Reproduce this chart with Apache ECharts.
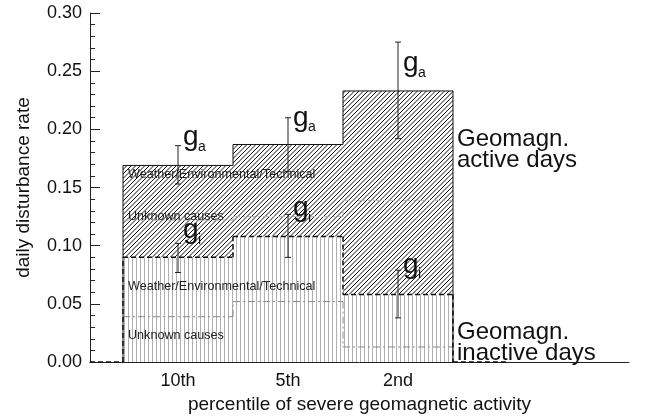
<!DOCTYPE html>
<html><head><meta charset="utf-8">
<script src="https://cdn.jsdelivr.net/npm/echarts@6/dist/echarts.min.js"></script>
<style>html,body{margin:0;padding:0;background:#fff}#c{width:651px;height:419px}</style>
</head><body><div id="c"></div>
<script>
// ---- data ----
const categories = ['10th', '5th', '2nd'];
const activeRate = [0.169, 0.187, 0.233];
const activeErrLow = [0.153, 0.164, 0.192];
const activeErrHigh = [0.186, 0.210, 0.275];
const inactiveRate = [0.090, 0.108, 0.058];
const inactiveErrLow = [0.077, 0.090, 0.038];
const inactiveErrHigh = [0.102, 0.127, 0.079];
const activeUnknown = [0.122, 0.125, 0.139];
const inactiveUnknown = [0.039, 0.052, 0.013];
const yTickValues = [0, 0.05, 0.10, 0.15, 0.20, 0.25, 0.30];

// ---- style config ----
const FONT = 'Liberation Sans, Arial, Helvetica, sans-serif';
const HALF = 0.5;
const xPos = categories.map((c, i) => i + 1);
const gActiveDy = [-13, -4.5, 16.5];
const gInactiveDy = [-17.5, -10.5, -10];

function makeDiag() {
  const s = 9, cv = document.createElement('canvas');
  cv.width = s; cv.height = s;
  const g = cv.getContext('2d');
  g.fillStyle = '#fff'; g.fillRect(0, 0, s, s);
  g.strokeStyle = '#111'; g.lineWidth = 1;
  for (const c of [0, 4.5, 9, 13.5, 18]) {
    g.beginPath(); g.moveTo(c + 1, -1); g.lineTo(c - s - 1, s + 1); g.stroke();
  }
  return cv;
}
function makeVert() {
  const cv = document.createElement('canvas');
  cv.width = 4; cv.height = 4;
  const g = cv.getContext('2d');
  g.fillStyle = '#fff'; g.fillRect(0, 0, 4, 4);
  g.fillStyle = '#b0b0b0'; g.fillRect(0, 0, 1, 4);
  return cv;
}
const diagFill = { image: makeDiag(), repeat: 'repeat' };
const vertFill = { image: makeVert(), repeat: 'repeat' };

function rectItem(lowArr, highArr, fill) {
  return function (params, api) {
    const i = params.dataIndex, x = api.value(0);
    const lo = lowArr ? lowArr[i] : 0;
    const p0 = api.coord([x - HALF, lo]);
    const p1 = api.coord([x + HALF, highArr[i]]);
    return { type: 'rect', shape: { x: p0[0], y: p1[1], width: p1[0] - p0[0], height: p0[1] - p1[1] },
      style: { fill: fill } };
  };
}
function stepItem(vals, style, edges, ext) {
  return function (params, api) {
    const i = params.dataIndex, x = api.value(0), n = vals.length;
    const ch = [];
    const seg = (a, b) => { const p = api.coord(a), q = api.coord(b);
      ch.push({ type: 'line', shape: { x1: p[0], y1: p[1], x2: q[0], y2: q[1] }, style: style }); };
    seg([x - HALF, vals[i]], [x + HALF, vals[i]]);
    if (i > 0) seg([x - HALF, vals[i - 1]], [x - HALF, vals[i]]);
    if (edges && i === 0) seg([x - HALF, 0], [x - HALF, vals[i]]);
    if (edges && i === n - 1) seg([x + HALF, vals[i]], [x + HALF, 0]);
    if (ext && i === 0) seg([ext[0], 0], [x - HALF, 0]);
    if (ext && i === n - 1) seg([x + HALF, 0], [ext[1], 0]);
    return { type: 'group', children: ch };
  };
}
function errItem(lowArr, highArr, sub, dyArr) {
  return function (params, api) {
    const i = params.dataIndex, x = api.value(0);
    const t = api.coord([x, highArr[i]]), b = api.coord([x, lowArr[i]]);
    const st = { stroke: '#222', lineWidth: 1 };
    const xt = t[1] + dyArr[i];
    return { type: 'group', children: [
      { type: 'line', shape: { x1: t[0], y1: t[1], x2: b[0], y2: b[1] }, style: st },
      { type: 'line', shape: { x1: t[0] - 3, y1: t[1], x2: t[0] + 3, y2: t[1] }, style: st },
      { type: 'line', shape: { x1: b[0] - 3, y1: b[1], x2: b[0] + 3, y2: b[1] }, style: st },
      { type: 'text', style: { text: 'g', x: t[0] + 5, y: xt + 4.8, font: '28px ' + FONT, fill: '#111',
        verticalAlign: 'middle', align: 'left' } },
      { type: 'text', style: { text: sub, x: t[0] + 20, y: xt + 14.2, font: '14px ' + FONT, fill: '#111',
        verticalAlign: 'middle', align: 'left' } }
    ] };
  };
}
function regionTextItem(params, api) {
  const x = api.value(0) - HALF;
  const f = '12.6px ' + FONT;
  const px = api.coord([x, 0])[0] + 5;
  const y1 = api.coord([x, activeRate[0]])[1] + 9;
  const y2 = api.coord([x, activeUnknown[0]])[1] - 3.5;
  const y3 = api.coord([x, inactiveUnknown[0]])[1] - 30;
  const y4 = api.coord([x, inactiveUnknown[0]])[1] + 18.5;
  const mk = (t, y) => ({ type: 'text', style: { text: t, x: px, y: y, font: f, fill: '#222', verticalAlign: 'middle' } });
  return { type: 'group', children: [
    mk('Weather/Environmental/Technical', y1), mk('Unknown causes', y2),
    mk('Weather/Environmental/Technical', y3), mk('Unknown causes', y4)] };
}

const pts = (arr) => xPos.map((x, i) => [x, arr[i]]);

const option = {
  animation: false,
  backgroundColor: '#fff',
  grid: { left: 90, right: 22, top: 13, bottom: 55 },
  xAxis: {
    type: 'value', min: 0.2, max: 5.1,
    name: 'percentile of severe geomagnetic activity', nameLocation: 'middle', nameGap: 27,
    nameTextStyle: { fontSize: 19, fontFamily: FONT, color: '#111' },
    axisLine: { show: true, lineStyle: { color: '#222', width: 1 } },
    axisTick: { show: true, inside: true, length: 7, customValues: xPos, lineStyle: { color: '#222' } },
    axisLabel: { customValues: xPos, formatter: v => categories[Math.round(v) - 1] || '',
      fontSize: 18, fontFamily: FONT, color: '#111', margin: 10 },
    splitLine: { show: false }
  },
  yAxis: {
    type: 'value', min: 0, max: 0.3, interval: 0.05,
    name: 'daily disturbance rate', nameLocation: 'middle', nameGap: 57,
    nameTextStyle: { fontSize: 19, fontFamily: FONT, color: '#111' },
    axisLine: { show: true, lineStyle: { color: '#222', width: 1 } },
    axisTick: { show: true, inside: true, length: 10, customValues: yTickValues, lineStyle: { color: '#222' } },
    minorTick: { show: true, splitNumber: 5, length: 5, lineStyle: { color: '#222' } },
    axisLabel: { customValues: yTickValues, formatter: v => v.toFixed(2), fontSize: 18, fontFamily: FONT, color: '#111', margin: 8 },
    splitLine: { show: false }, minorSplitLine: { show: false }
  },
  graphic: [
    { type: 'text', left: 457, top: 127, style: { text: 'Geomagn.\nactive days', font: '24px ' + FONT, fill: '#111', lineHeight: 21 } },
    { type: 'text', left: 457, top: 320, style: { text: 'Geomagn.\ninactive days', font: '24px ' + FONT, fill: '#111', lineHeight: 21 } }
  ],
  series: [
    { type: 'custom', renderItem: rectItem(null, inactiveRate, vertFill), data: pts(inactiveRate), z: 1 },
    { type: 'custom', renderItem: rectItem(inactiveRate, activeRate, diagFill), data: pts(activeRate), z: 2 },
    { type: 'custom', renderItem: stepItem(activeUnknown, { stroke: '#b0b0b0', lineWidth: 1, lineDash: [7, 3, 2, 3] }, false), data: pts(activeUnknown), z: 3 },
    { type: 'custom', renderItem: stepItem(inactiveUnknown, { stroke: '#8a8a8a', lineWidth: 1, lineDash: [7, 3, 2, 3] }, false), data: pts(inactiveUnknown), z: 3 },
    { type: 'custom', renderItem: stepItem(inactiveRate, { stroke: '#111', lineWidth: 1.5, lineDash: [5, 3] }, true, [0.2, 4.0]), data: pts(inactiveRate), z: 4 },
    { type: 'custom', renderItem: stepItem(activeRate, { stroke: '#111', lineWidth: 1 }, true), data: pts(activeRate), z: 5 },
    { type: 'custom', renderItem: regionTextItem, data: [[xPos[0]]], z: 6 },
    { type: 'custom', renderItem: errItem(activeErrLow, activeErrHigh, 'a', gActiveDy), data: pts(activeRate), z: 7 },
    { type: 'custom', renderItem: errItem(inactiveErrLow, inactiveErrHigh, 'i', gInactiveDy), data: pts(inactiveRate), z: 7 }
  ]
};
const chart = echarts.init(document.getElementById('c'), null, { renderer: 'canvas' });
chart.setOption(option);
</script>
</body></html>
